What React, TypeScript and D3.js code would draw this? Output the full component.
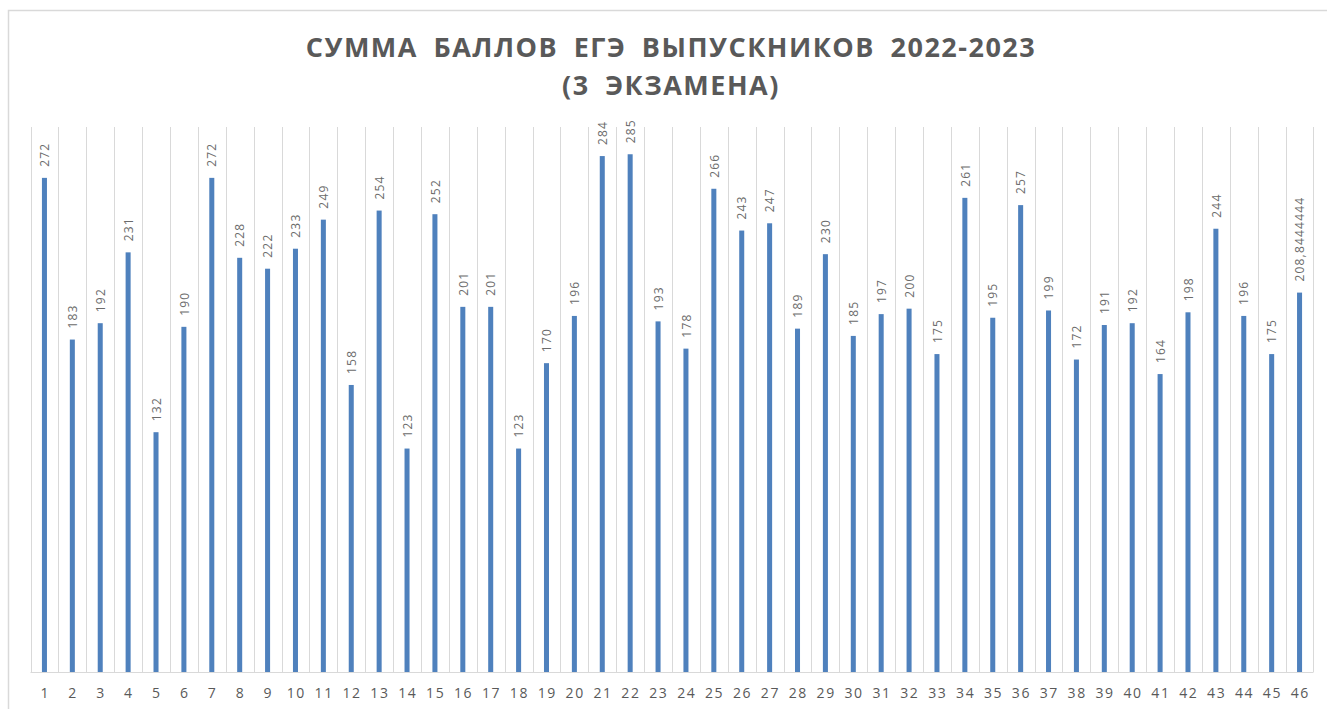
import React, { useEffect, useRef } from "react";
import * as d3 from "d3";

const categories: string[] = Array.from({ length: 46 }, (_, i) => String(i + 1));
const values: number[] = [
  272, 183, 192, 231, 132, 190, 272, 228, 222, 233, 249, 158, 254, 123, 252, 201,
  201, 123, 170, 196, 284, 285, 193, 178, 266, 243, 247, 189, 230, 185, 197, 200,
  175, 261, 195, 257, 199, 172, 191, 192, 164, 198, 244, 196, 175, 208.8444444,
];
const titleLines: string[] = ["СУММА БАЛЛОВ ЕГЭ ВЫПУСКНИКОВ 2022-2023", "(3 ЭКЗАМЕНА)"];
const yMax = 300;

const W = 1327;
const H = 709;

export default function App() {
  const ref = useRef<SVGSVGElement | null>(null);

  useEffect(() => {
    const svg = d3.select(ref.current);
    svg.selectAll("*").remove();

    const left = 30.5, right = 1313.5, top = 127, bottom = 672;

    // chart border
    svg.append("rect")
      .attr("x", 8.5).attr("y", 10.5)
      .attr("width", W + 20).attr("height", H + 20)
      .attr("fill", "#fff").attr("stroke", "#d9d9d9").attr("stroke-width", 1.5);

    const x = d3.scaleBand<string>()
      .domain(categories)
      .range([left, right])
      .paddingInner(0.82)
      .paddingOuter(0.41);
    const y = d3.scaleLinear().domain([0, yMax]).range([bottom, top]);
    const step = x.step();

    // vertical gridlines at category boundaries
    const bounds = categories.map((c) => (x(c) as number) + x.bandwidth() / 2 - step / 2);
    bounds.push(bounds[bounds.length - 1] + step);
    svg.append("g").selectAll("line").data(bounds).join("line")
      .attr("x1", (d) => Math.round(d) + 0.5).attr("x2", (d) => Math.round(d) + 0.5)
      .attr("y1", top).attr("y2", bottom)
      .attr("stroke", "#d9d9d9").attr("stroke-width", 1);

    // baseline
    svg.append("line")
      .attr("x1", left).attr("x2", right)
      .attr("y1", bottom + 0.5).attr("y2", bottom + 0.5)
      .attr("stroke", "#d9d9d9").attr("stroke-width", 1);

    // bars
    svg.append("g").selectAll("rect").data(values).join("rect")
      .attr("x", (_, i) => x(categories[i]) as number)
      .attr("width", x.bandwidth())
      .attr("y", (d) => y(d))
      .attr("height", (d) => bottom - y(d))
      .attr("fill", "#4f81bd");

    // data labels
    const fmt = (v: number) => (Number.isInteger(v) ? String(v) : String(v).replace(".", ","));
    svg.append("g").selectAll("text").data(values).join("text")
      .attr("transform", (d, i) => {
        const cx = (x(categories[i]) as number) + x.bandwidth() / 2 + 0.5;
        return `translate(${cx},${y(d) - 11}) rotate(-90)`;
      })
      .attr("dy", "0.35em")
      .attr("text-anchor", "start")
      .attr("font-family", "'Open Sans', sans-serif")
      .attr("font-size", 12)
      .attr("letter-spacing", 1.2)
      .attr("fill", "#6b6b6b")
      .text((d) => fmt(d));

    // x axis labels
    svg.append("g").selectAll("text").data(categories).join("text")
      .attr("x", (c) => (x(c) as number) + x.bandwidth() / 2 + 0.8)
      .attr("y", 698)
      .attr("text-anchor", "middle")
      .attr("font-family", "'Open Sans', sans-serif")
      .attr("font-size", 14)
      .attr("letter-spacing", 1.6)
      .attr("fill", "#595959")
      .text((c) => c);

    // title
    const t = svg.append("g");
    t.selectAll("text").data(titleLines).join("text")
      .attr("x", 671)
      .attr("y", (_, i) => 57 + i * 38)
      .attr("text-anchor", "middle")
      .attr("font-family", "'Open Sans', sans-serif")
      .attr("font-weight", "bold")
      .attr("font-size", 27)
      .attr("letter-spacing", 1.5)
      .attr("word-spacing", 7)
      .attr("fill", "#595959")
      .text((d) => d);
  }, []);

  return (
    <svg
      ref={ref}
      width={W}
      height={H}
      style={{ position: "absolute", left: 0, top: 0, background: "#fff" }}
    />
  );
}
